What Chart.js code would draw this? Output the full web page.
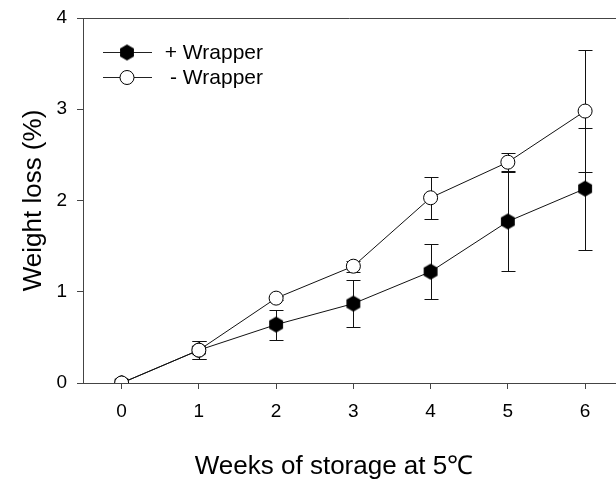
<!DOCTYPE html>
<html>
<head>
<meta charset="utf-8">
<title>Weight loss</title>
<script src="https://cdn.jsdelivr.net/npm/chart.js@4.4.1/dist/chart.umd.min.js"></script>
<style>
    html, body { margin: 0; padding: 0; background: #fff; overflow: hidden; }
    canvas { display: block; }
</style>
</head>
<body>
<canvas id="lossChart" width="616" height="483"></canvas>
<script>
// Weeks of storage and mean weight loss with SD
const weeks = [0, 1, 2, 3, 4, 5, 6];
const withWrapper = [0, 0.36, 0.64, 0.87, 1.22, 1.77, 2.13];
const withWrapperErr = [0, 0.10, 0.165, 0.26, 0.30, 0.54, 0.67];
const noWrapper = [0, 0.36, 0.93, 1.28, 2.03, 2.42, 2.98];
const noWrapperErr = [0, 0.10, 0.02, 0.06, 0.23, 0.10, 0.67];
const yTicks = [0, 1, 2, 3, 4];
const seriesNames = ['+ Wrapper', '- Wrapper'];
const xTitle = 'Weeks of storage at 5\u2103';
const yTitle = 'Weight loss (%)';

const FONT = 'Arial, "Liberation Sans", sans-serif';
const AXIS_COLOR = '#444';

// Filled hexagon marker (pointy top)
function makeHexagon(r) {
    const c = document.createElement('canvas');
    const size = Math.ceil(r * 2 + 2);
    c.width = size;
    c.height = size;
    const ctx = c.getContext('2d');
    ctx.beginPath();
    for (let i = 0; i < 6; i++) {
        const a = Math.PI / 2 + i * Math.PI / 3;
        const px = size / 2 + r * Math.cos(a);
        const py = size / 2 - r * Math.sin(a);
        if (i === 0) ctx.moveTo(px, py); else ctx.lineTo(px, py);
    }
    ctx.closePath();
    ctx.fillStyle = '#000';
    ctx.fill();
    return c;
}
const hexMarker = makeHexagon(8);

function toPoints(ys) {
    return weeks.map((w, i) => ({ x: w, y: ys[i] }));
}

// Error bars drawn under the markers
const errorBars = {
    id: 'errorBars',
    beforeDatasetsDraw(chart) {
        const ctx = chart.ctx;
        const xs = chart.scales.x;
        const ys = chart.scales.y;
        const sets = [[withWrapper, withWrapperErr], [noWrapper, noWrapperErr]];
        ctx.save();
        ctx.strokeStyle = '#111';
        ctx.lineWidth = 1;
        sets.forEach(([vals, errs]) => {
            vals.forEach((v, i) => {
                if (!errs[i]) return;
                const x = Math.round(xs.getPixelForValue(weeks[i])) + 0.5;
                const top = Math.round(ys.getPixelForValue(v + errs[i])) + 0.5;
                const bot = Math.round(ys.getPixelForValue(v - errs[i])) + 0.5;
                ctx.beginPath();
                ctx.moveTo(x, top); ctx.lineTo(x, bot);
                ctx.moveTo(x - 7, top); ctx.lineTo(x + 7, top);
                ctx.moveTo(x - 7, bot); ctx.lineTo(x + 7, bot);
                ctx.stroke();
            });
        });
        ctx.restore();
    }
};

// Top frame line, x title and the in-plot legend
const frameAndLegend = {
    id: 'frameAndLegend',
    afterDraw(chart) {
        const ctx = chart.ctx;
        const area = chart.chartArea;
        ctx.save();
        ctx.strokeStyle = AXIS_COLOR;
        ctx.lineWidth = 1;
        ctx.beginPath();
        ctx.moveTo(area.left, Math.round(area.top) + 0.5);
        ctx.lineTo(area.right, Math.round(area.top) + 0.5);
        ctx.stroke();

        // x axis title sits a little left of the plot centre
        ctx.fillStyle = '#000';
        ctx.font = '26px ' + FONT;
        ctx.textAlign = 'center';
        ctx.textBaseline = 'alphabetic';
        ctx.fillText(xTitle, 334, 474);

        const rows = [
            { y: 52, filled: true },
            { y: 77, filled: false }
        ];
        ctx.font = '21px ' + FONT;
        ctx.textAlign = 'right';
        ctx.textBaseline = 'middle';
        rows.forEach((r, i) => {
            ctx.strokeStyle = '#222';
            ctx.beginPath();
            ctx.moveTo(103, r.y + 0.5);
            ctx.lineTo(152, r.y + 0.5);
            ctx.stroke();
            if (r.filled) {
                ctx.drawImage(hexMarker, 127 - hexMarker.width / 2, r.y + 0.5 - hexMarker.height / 2);
            } else {
                ctx.beginPath();
                ctx.arc(127, r.y + 0.5, 7, 0, Math.PI * 2);
                ctx.fillStyle = '#fff';
                ctx.fill();
                ctx.strokeStyle = '#000';
                ctx.stroke();
            }
            ctx.fillStyle = '#000';
            ctx.fillText(seriesNames[i], 263, r.y + 1);
        });
        ctx.restore();
    }
};

const ctx = document.getElementById('lossChart').getContext('2d');
const chart = new Chart(ctx, {
    type: 'line',
    data: {
        datasets: [{
            label: seriesNames[0],
            data: toPoints(withWrapper),
            borderColor: '#111',
            borderWidth: 1,
            pointStyle: hexMarker,
            pointRadius: 8,
            order: 2
        }, {
            label: seriesNames[1],
            data: toPoints(noWrapper),
            borderColor: '#111',
            borderWidth: 1,
            pointStyle: 'circle',
            pointRadius: 7,
            pointBackgroundColor: '#fff',
            pointBorderColor: '#000',
            pointBorderWidth: 1,
            order: 1
        }]
    },
    options: {
        responsive: false,
        animation: false,
        layout: { autoPadding: false, padding: { top: 18, right: 0, left: 0, bottom: 0 } },
        plugins: {
            legend: { display: false },
            tooltip: { enabled: false }
        },
        scales: {
            x: {
                type: 'linear',
                min: -0.5,
                max: 6.4,
                afterBuildTicks: scale => { scale.ticks = weeks.map(v => ({ value: v })); },
                afterFit: scale => {
                    scale.height = 100;
                    scale.paddingLeft = 0;
                    scale.paddingRight = 0;
                },
                border: { color: AXIS_COLOR, width: 1 },
                grid: { drawOnChartArea: false, tickLength: 6, color: AXIS_COLOR },
                ticks: { color: '#000', font: { family: FONT, size: 19 }, padding: 11, autoSkip: false, maxRotation: 0 }
            },
            y: {
                min: 0,
                max: 4,
                afterBuildTicks: scale => { scale.ticks = yTicks.map(v => ({ value: v })); },
                afterFit: scale => {
                    scale.width = 83;
                    scale.paddingTop = 0;
                    scale.paddingBottom = 0;
                },
                border: { color: AXIS_COLOR, width: 1 },
                grid: { drawOnChartArea: false, tickLength: 6, color: AXIS_COLOR },
                ticks: { color: '#000', font: { family: FONT, size: 19 }, padding: 10 },
                title: {
                    display: true,
                    text: yTitle,
                    color: '#000',
                    font: { family: FONT, size: 26 },
                    padding: { top: 18, bottom: 0 }
                }
            }
        }
    },
    plugins: [errorBars, frameAndLegend]
});
</script>
</body>
</html>
